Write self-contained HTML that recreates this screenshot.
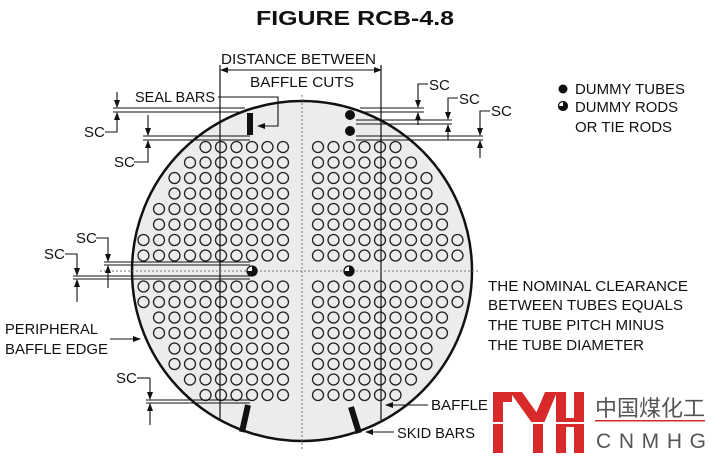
<!DOCTYPE html>
<html><head><meta charset="utf-8"><style>
html,body{margin:0;padding:0;background:#fff;}
svg{display:block;}
text{font-family:"Liberation Sans Narrow","Liberation Sans",sans-serif;fill:#111;}
</style></head><body>
<svg id="s" width="711" height="458" viewBox="0 0 711 458" xmlns="http://www.w3.org/2000/svg">
<defs>
<marker id="a" markerWidth="8" markerHeight="8" refX="7" refY="4" orient="auto" markerUnits="userSpaceOnUse"><path d="M0,1 L8,4 L0,7z" fill="#111"/></marker>
</defs>
<text x="355" y="25" text-anchor="middle" font-size="20" font-weight="bold" style="font-family:'Liberation Sans',sans-serif" textLength="198" lengthAdjust="spacingAndGlyphs">FIGURE RCB-4.8</text>
<circle cx="302" cy="271" r="170" fill="#ececec" stroke="#111" stroke-width="2.5"/>
<g id="tubes" fill="none" stroke="#222" stroke-width="1.3"></g>
<line x1="220" y1="65" x2="220" y2="420" stroke="#111" stroke-width="1.2"/>
<line x1="381" y1="65" x2="381" y2="420" stroke="#111" stroke-width="1.2"/>
<line x1="302" y1="95" x2="302" y2="450" stroke="#777" stroke-width="1" stroke-dasharray="2,2"/>
<line x1="100" y1="271" x2="480" y2="271" stroke="#777" stroke-width="1" stroke-dasharray="2,2"/>
<rect x="247" y="113" width="6" height="22" fill="#111"/>
<circle cx="350" cy="115" r="5" fill="#111"/><circle cx="350" cy="131" r="5" fill="#111"/>
<g><circle cx="252" cy="271" r="5" fill="#fff" stroke="#111" stroke-width="1.3"/><path d="M247,271 A5,5 0 0 0 257,271z M252,266 A5 5 0 0 1 257,271 L252,271z" fill="#111"/></g>
<g><circle cx="349" cy="271" r="5" fill="#fff" stroke="#111" stroke-width="1.3"/><path d="M344,271 A5,5 0 0 0 354,271z M349,266 A5 5 0 0 1 354,271 L349,271z" fill="#111"/></g>
<line x1="248" y1="405" x2="242" y2="432" stroke="#111" stroke-width="6"/>
<line x1="351" y1="407" x2="359" y2="433" stroke="#111" stroke-width="6"/>
<g stroke="#111" stroke-width="1.1" fill="none">
<line x1="230" y1="70" x2="221" y2="70" marker-end="url(#a)"/>
<line x1="228" y1="70" x2="381" y2="70" marker-end="url(#a)"/>
<path d="M218,97 H278 V126 H258" marker-end="url(#a)"/>
<line x1="113" y1="108" x2="245" y2="108"/><line x1="113" y1="112" x2="240" y2="112"/>
<line x1="117" y1="92" x2="117" y2="107" marker-end="url(#a)"/><line x1="117" y1="128" x2="117" y2="113" marker-end="url(#a)"/>
<path d="M105,132 H117 V128"/>
<line x1="143" y1="136" x2="250" y2="136"/><line x1="143" y1="140" x2="250" y2="140"/>
<line x1="148" y1="115" x2="148" y2="135" marker-end="url(#a)"/><line x1="148" y1="160" x2="148" y2="141" marker-end="url(#a)"/>
<path d="M134,162 H148 V160"/>
<line x1="360" y1="108" x2="424" y2="108"/><line x1="360" y1="112" x2="424" y2="112"/>
<line x1="418" y1="90" x2="418" y2="107" marker-end="url(#a)"/><line x1="418" y1="125" x2="418" y2="113" marker-end="url(#a)"/>
<path d="M418,90 V84 H428"/>
<line x1="356" y1="120" x2="452" y2="120"/><line x1="356" y1="124" x2="452" y2="124"/>
<line x1="448" y1="103" x2="448" y2="119" marker-end="url(#a)"/><line x1="448" y1="140" x2="448" y2="125" marker-end="url(#a)"/>
<path d="M448,103 V98 H458"/>
<line x1="356" y1="136" x2="483" y2="136"/><line x1="356" y1="140" x2="483" y2="140"/>
<line x1="480" y1="117" x2="480" y2="135" marker-end="url(#a)"/><line x1="480" y1="158" x2="480" y2="141" marker-end="url(#a)"/>
<path d="M480,117 V111 H490"/>
<line x1="104" y1="262" x2="250" y2="262"/><line x1="104" y1="265" x2="250" y2="265"/>
<line x1="108" y1="240" x2="108" y2="261" marker-end="url(#a)"/><line x1="108" y1="288" x2="108" y2="266" marker-end="url(#a)"/>
<path d="M96,238 H108 V240"/>
<line x1="73" y1="276" x2="250" y2="276"/><line x1="73" y1="279" x2="250" y2="279"/>
<line x1="77" y1="255" x2="77" y2="275" marker-end="url(#a)"/><line x1="77" y1="302" x2="77" y2="280" marker-end="url(#a)"/>
<path d="M65,254 H77 V255"/>
<line x1="146" y1="400" x2="250" y2="400"/><line x1="146" y1="403" x2="250" y2="403"/>
<line x1="150" y1="378" x2="150" y2="399" marker-end="url(#a)"/><line x1="150" y1="425" x2="150" y2="404" marker-end="url(#a)"/>
<path d="M137,378 H150"/>
<line x1="110" y1="339" x2="140" y2="339" marker-end="url(#a)"/>
<line x1="428" y1="405" x2="386" y2="405" marker-end="url(#a)"/>
<line x1="394" y1="432" x2="366" y2="432" marker-end="url(#a)"/>
</g>
<g font-size="15">
<text x="221" y="64" textLength="155" lengthAdjust="spacingAndGlyphs">DISTANCE BETWEEN</text>
<text x="250" y="87" textLength="104" lengthAdjust="spacingAndGlyphs">BAFFLE CUTS</text>
<text x="135" y="102" textLength="80" lengthAdjust="spacingAndGlyphs">SEAL BARS</text>
<text x="84" y="137">SC</text><text x="114" y="167">SC</text>
<text x="429" y="90">SC</text><text x="459" y="104">SC</text><text x="491" y="116">SC</text>
<text x="76" y="243">SC</text><text x="44" y="259">SC</text><text x="116" y="383">SC</text>
<text x="575" y="94" textLength="110" lengthAdjust="spacingAndGlyphs">DUMMY TUBES</text>
<text x="575" y="112" textLength="103" lengthAdjust="spacingAndGlyphs">DUMMY RODS</text>
<text x="575" y="132" textLength="97" lengthAdjust="spacingAndGlyphs">OR TIE RODS</text>
<text x="488" y="291" textLength="200" lengthAdjust="spacingAndGlyphs">THE NOMINAL CLEARANCE</text>
<text x="488" y="310" textLength="195" lengthAdjust="spacingAndGlyphs">BETWEEN TUBES EQUALS</text>
<text x="488" y="330" textLength="176" lengthAdjust="spacingAndGlyphs">THE TUBE PITCH MINUS</text>
<text x="488" y="350" textLength="156" lengthAdjust="spacingAndGlyphs">THE TUBE DIAMETER</text>
<text x="5" y="334" textLength="93" lengthAdjust="spacingAndGlyphs">PERIPHERAL</text>
<text x="5" y="354" textLength="103" lengthAdjust="spacingAndGlyphs">BAFFLE EDGE</text>
<text x="431" y="410" textLength="57" lengthAdjust="spacingAndGlyphs">BAFFLE</text>
<text x="397" y="438" textLength="78" lengthAdjust="spacingAndGlyphs">SKID BARS</text>
</g>
<circle cx="563" cy="89" r="4.5" fill="#111"/>
<circle cx="563" cy="106" r="4.5" fill="#fff" stroke="#111" stroke-width="1.2"/><path d="M558.5,106 A4.5,4.5 0 0 0 567.5,106z M563,101.5 A4.5 4.5 0 0 1 567.5,106 L563,106z" fill="#111"/>
<rect x="489" y="386" width="222" height="72" fill="#fff"/>
<g fill="#d82a2a">
<rect x="493" y="392" width="10" height="61"/><rect x="493" y="392" width="19" height="10"/>
<polygon points="510,392 522,392 544,423 532,423"/>
<polygon points="545,392 557,392 544,423 532,423"/>
<rect x="533" y="421" width="10" height="32"/>
<rect x="556" y="392" width="10" height="61"/><rect x="566" y="418" width="9" height="9"/>
<rect x="574" y="392" width="10" height="61"/>
<rect x="595" y="420" width="110" height="1.5"/>
</g>
<rect x="489" y="422" width="96" height="2" fill="#fff"/>
<text x="595" y="416" font-size="22" style="font-family:'Noto Sans CJK SC',sans-serif;fill:#555" textLength="110" lengthAdjust="spacingAndGlyphs">中国煤化工</text>
<text x="596" y="448" font-size="21" style="font-family:'Liberation Sans',sans-serif;fill:#555" textLength="110" lengthAdjust="spacing">CNMHG</text>
</svg>
<script>
var g=document.getElementById('tubes'),s='';
var xs=[],ys=[];
for(var i=0;i<10;i++){xs.push(283-i*15.5);xs.push(318+i*15.5);}
for(var j=0;j<8;j++){ys.push(255.5-j*15.5);ys.push(286.5+j*15.5);}
ys.forEach(function(y){xs.forEach(function(x){var dx=x-300.5,dy=y-271;if(Math.sqrt(dx*dx+dy*dy)<161){s+='<circle cx="'+x+'" cy="'+y+'" r="5.5"/>';}});});
g.innerHTML=s;
</script>
</body></html>
